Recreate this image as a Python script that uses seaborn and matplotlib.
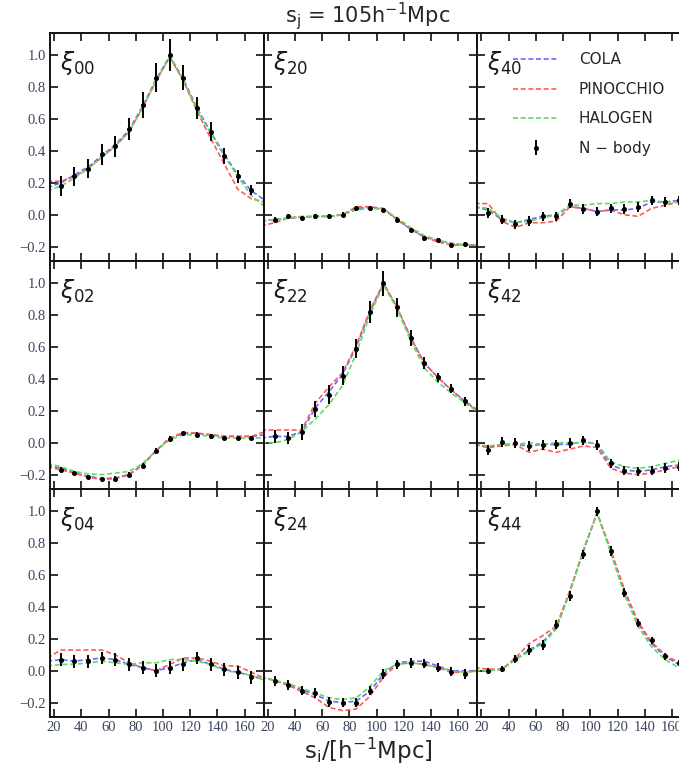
import numpy as np
import pandas as pd
import matplotlib
matplotlib.use("Agg")
import matplotlib.pyplot as plt
import seaborn as sns

# ---------------- data ----------------
S_NBODY = [25, 35, 45, 55, 65, 75, 85, 95, 105, 115, 125, 135, 145, 155, 165]
S_MODEL = [15, 25, 35, 45, 55, 65, 75, 85, 95, 105, 115, 125, 135, 145, 155, 165, 175]

PANELS = ["00", "20", "40", "02", "22", "42", "04", "24", "44"]
MODELS = ["COLA", "PINOCCHIO", "HALOGEN"]

# xi_00
NBODY_00 = [0.18, 0.24, 0.29, 0.38, 0.43, 0.54, 0.69, 0.86, 1.00, 0.86, 0.67, 0.52, 0.37, 0.24, 0.155]
ERR_00 = [0.06, 0.06, 0.06, 0.065, 0.065, 0.07, 0.08, 0.09, 0.10, 0.08, 0.07, 0.06, 0.05, 0.04, 0.03]
COLA_00 = [0.17, 0.20, 0.25, 0.30, 0.37, 0.44, 0.53, 0.68, 0.85, 0.995, 0.85, 0.67, 0.52, 0.38, 0.25, 0.15, 0.09]
PINO_00 = [0.21, 0.21, 0.24, 0.29, 0.36, 0.43, 0.52, 0.67, 0.84, 0.99, 0.84, 0.65, 0.48, 0.32, 0.16, 0.10, 0.08]
HALO_00 = [0.15, 0.18, 0.23, 0.29, 0.36, 0.43, 0.52, 0.67, 0.84, 0.99, 0.84, 0.66, 0.51, 0.37, 0.24, 0.12, 0.05]

# xi_20
NBODY_20 = [-0.03, -0.01, -0.02, -0.01, -0.01, 0.0, 0.04, 0.04, 0.03, -0.03, -0.095, -0.147, -0.158, -0.19, -0.185]
ERR_20 = [0.015] * 15
COLA_20 = [-0.04, -0.03, -0.02, -0.015, -0.01, -0.01, 0.0, 0.04, 0.045, 0.035, -0.03, -0.09, -0.14, -0.16, -0.18, -0.19, -0.19]
PINO_20 = [-0.07, -0.05, -0.02, -0.015, -0.01, -0.01, 0.0, 0.05, 0.05, 0.04, -0.03, -0.09, -0.14, -0.17, -0.19, -0.19, -0.19]
HALO_20 = [-0.04, -0.03, -0.02, -0.01, -0.01, -0.01, 0.0, 0.03, 0.04, 0.035, -0.02, -0.08, -0.13, -0.16, -0.18, -0.19, -0.19]

# xi_40
NBODY_40 = [0.01, -0.03, -0.06, -0.04, -0.01, -0.01, 0.07, 0.035, 0.02, 0.04, 0.035, 0.05, 0.09, 0.08, 0.09]
ERR_40 = [0.03] * 15
COLA_40 = [0.05, 0.03, -0.03, -0.05, -0.03, -0.01, 0.0, 0.05, 0.04, 0.02, 0.03, 0.03, 0.04, 0.08, 0.08, 0.09, 0.09]
PINO_40 = [0.07, 0.07, -0.04, -0.08, -0.05, -0.05, -0.04, 0.05, 0.04, 0.02, 0.03, 0.0, -0.01, 0.04, 0.06, 0.08, 0.09]
HALO_40 = [0.05, 0.04, -0.02, -0.05, -0.04, -0.02, 0.0, 0.06, 0.06, 0.07, 0.07, 0.08, 0.08, 0.09, 0.08, 0.08, 0.08]

# xi_02
NBODY_02 = [-0.17, -0.19, -0.215, -0.23, -0.225, -0.20, -0.145, -0.05, 0.025, 0.06, 0.05, 0.04, 0.03, 0.03, 0.03]
ERR_02 = [0.015] * 15
COLA_02 = [-0.14, -0.16, -0.19, -0.21, -0.225, -0.22, -0.20, -0.14, -0.05, 0.03, 0.06, 0.06, 0.05, 0.04, 0.04, 0.04, 0.05]
PINO_02 = [-0.15, -0.17, -0.19, -0.215, -0.23, -0.225, -0.20, -0.14, -0.05, 0.03, 0.065, 0.06, 0.05, 0.04, 0.04, 0.04, 0.07]
HALO_02 = [-0.13, -0.15, -0.18, -0.195, -0.20, -0.19, -0.18, -0.13, -0.05, 0.02, 0.05, 0.05, 0.04, 0.03, 0.03, 0.03, 0.03]

# xi_22
NBODY_22 = [0.04, 0.03, 0.07, 0.21, 0.30, 0.42, 0.59, 0.82, 1.00, 0.85, 0.66, 0.50, 0.41, 0.34, 0.26]
ERR_22 = [0.04, 0.04, 0.05, 0.05, 0.06, 0.06, 0.06, 0.07, 0.08, 0.06, 0.05, 0.04, 0.03, 0.03, 0.03]
COLA_22 = [0.03, 0.04, 0.04, 0.07, 0.22, 0.32, 0.43, 0.60, 0.82, 1.0, 0.85, 0.66, 0.50, 0.41, 0.33, 0.26, 0.20]
PINO_22 = [0.08, 0.08, 0.08, 0.08, 0.25, 0.35, 0.44, 0.61, 0.83, 1.0, 0.85, 0.66, 0.50, 0.41, 0.33, 0.26, 0.19]
HALO_22 = [0.0, 0.0, 0.02, 0.07, 0.15, 0.24, 0.36, 0.56, 0.80, 0.99, 0.84, 0.64, 0.47, 0.38, 0.31, 0.25, 0.19]

# xi_42
NBODY_42 = [-0.045, 0.005, 0.0, -0.02, -0.015, -0.01, 0.0, 0.015, -0.015, -0.13, -0.175, -0.18, -0.175, -0.16, -0.15]
ERR_42 = [0.03] * 15
COLA_42 = [-0.01, -0.03, -0.01, -0.01, -0.02, -0.01, -0.01, -0.01, 0.01, -0.01, -0.14, -0.17, -0.18, -0.17, -0.15, -0.14, -0.13]
PINO_42 = [-0.01, -0.03, -0.02, -0.01, -0.06, -0.04, -0.06, -0.04, -0.02, -0.03, -0.16, -0.19, -0.20, -0.19, -0.17, -0.15, -0.14]
HALO_42 = [-0.01, -0.02, -0.01, -0.01, 0.0, -0.01, 0.0, 0.0, 0.0, -0.005, -0.12, -0.15, -0.16, -0.15, -0.13, -0.11, -0.10]

# xi_04
NBODY_04 = [0.07, 0.06, 0.06, 0.08, 0.07, 0.04, 0.02, 0.0, 0.02, 0.04, 0.08, 0.04, 0.01, -0.01, -0.04]
ERR_04 = [0.04] * 15
COLA_04 = [0.06, 0.07, 0.06, 0.07, 0.08, 0.07, 0.04, 0.02, 0.0, 0.02, 0.05, 0.07, 0.04, 0.01, -0.01, -0.03, -0.06]
PINO_04 = [0.08, 0.13, 0.13, 0.13, 0.13, 0.10, 0.05, 0.02, 0.0, 0.04, 0.08, 0.08, 0.06, 0.03, 0.03, -0.01, -0.05]
HALO_04 = [0.03, 0.04, 0.04, 0.05, 0.06, 0.05, 0.04, 0.05, 0.05, 0.07, 0.07, 0.06, 0.04, 0.0, -0.01, -0.03, -0.06]

# xi_24
NBODY_24 = [-0.065, -0.09, -0.125, -0.14, -0.195, -0.20, -0.20, -0.125, -0.02, 0.04, 0.05, 0.045, 0.02, -0.005, -0.02]
ERR_24 = [0.03] * 15
COLA_24 = [-0.04, -0.06, -0.09, -0.12, -0.15, -0.19, -0.20, -0.19, -0.13, -0.02, 0.05, 0.06, 0.06, 0.03, 0.0, 0.0, 0.0]
PINO_24 = [-0.04, -0.06, -0.09, -0.13, -0.17, -0.23, -0.25, -0.24, -0.16, -0.04, 0.04, 0.05, 0.04, 0.02, -0.01, -0.01, 0.0]
HALO_24 = [-0.04, -0.06, -0.08, -0.11, -0.14, -0.17, -0.18, -0.17, -0.10, 0.0, 0.04, 0.05, 0.04, 0.02, 0.0, -0.01, 0.0]

# xi_44
NBODY_44 = [0.0, 0.01, 0.075, 0.13, 0.16, 0.29, 0.47, 0.73, 1.00, 0.75, 0.49, 0.30, 0.19, 0.09, 0.05]
ERR_44 = [0.02, 0.02, 0.025, 0.03, 0.03, 0.03, 0.03, 0.03, 0.03, 0.03, 0.03, 0.025, 0.02, 0.02, 0.02]
COLA_44 = [0.0, 0.0, 0.01, 0.07, 0.13, 0.18, 0.27, 0.50, 0.75, 0.99, 0.75, 0.50, 0.30, 0.17, 0.09, 0.04, 0.02]
PINO_44 = [0.02, 0.01, 0.01, 0.08, 0.17, 0.22, 0.28, 0.50, 0.76, 0.99, 0.76, 0.51, 0.31, 0.18, 0.10, 0.05, 0.03]
HALO_44 = [0.0, 0.0, 0.01, 0.07, 0.12, 0.17, 0.26, 0.49, 0.76, 0.99, 0.74, 0.48, 0.28, 0.15, 0.07, 0.02, 0.0]

X_TICKS = [20, 40, 60, 80, 100, 120, 140, 160]
Y_TICKS = [-0.2, 0.0, 0.2, 0.4, 0.6, 0.8, 1.0]
TITLE = "s$_\\mathregular{j}$ = 105h$^\\mathregular{-1}$Mpc"
XLABEL = "s$_\\mathregular{i}$/$\\mathregular{[}$h$^\\mathregular{-1}$Mpc$\\mathregular{]}$"

NBODY = {"00": NBODY_00, "20": NBODY_20, "40": NBODY_40, "02": NBODY_02, "22": NBODY_22,
         "42": NBODY_42, "04": NBODY_04, "24": NBODY_24, "44": NBODY_44}
ERR = {"00": ERR_00, "20": ERR_20, "40": ERR_40, "02": ERR_02, "22": ERR_22,
       "42": ERR_42, "04": ERR_04, "24": ERR_24, "44": ERR_44}
MODEL_VALUES = {
    "00": (COLA_00, PINO_00, HALO_00), "20": (COLA_20, PINO_20, HALO_20),
    "40": (COLA_40, PINO_40, HALO_40), "02": (COLA_02, PINO_02, HALO_02),
    "22": (COLA_22, PINO_22, HALO_22), "42": (COLA_42, PINO_42, HALO_42),
    "04": (COLA_04, PINO_04, HALO_04), "24": (COLA_24, PINO_24, HALO_24),
    "44": (COLA_44, PINO_44, HALO_44),
}

rows = []
for p in PANELS:
    for m, vals in zip(MODELS, MODEL_VALUES[p]):
        for s, v in zip(S_MODEL, vals):
            rows.append({"panel": p, "model": m, "s": s, "xi": v})
df = pd.DataFrame(rows)

# ---------------- style ----------------
sns.set_theme(style="white")
plt.rcParams["font.family"] = ["DejaVu Sans"]
plt.rcParams["mathtext.fontset"] = "dejavusans"
plt.rcParams["xtick.direction"] = "in"
plt.rcParams["ytick.direction"] = "in"

COLORS = {"COLA": "#6a6aff", "PINOCCHIO": "#ff5a5a", "HALOGEN": "#5fdc5f"}

fig = plt.figure(figsize=(6.79, 7.68), dpi=100)
gs = fig.add_gridspec(3, 3, left=50 / 679, right=691 / 679, top=1 - 33 / 768,
                      bottom=1 - 717 / 768, wspace=0, hspace=0)

TICK_FONT = dict(family="Liberation Serif", size=10.5, color="#3d4660")

axes = []
for i, p in enumerate(PANELS):
    r, c = divmod(i, 3)
    ax = fig.add_subplot(gs[r, c])
    axes.append(ax)
    sub = df[df["panel"] == p]
    for m in MODELS:
        d = sub[sub["model"] == m]
        sns.lineplot(data=d, x="s", y="xi", ax=ax, color=COLORS[m], sort=False,
                     errorbar=None, linewidth=1.2, linestyle=(0, (3, 1.6)),
                     label=m if p == "40" else None, legend=False)
    eb = ax.errorbar(S_NBODY, NBODY[p], yerr=ERR[p], fmt="o", ms=2.6, color="black",
                     ecolor="black", elinewidth=1.4, capsize=0,
                     label="N − body" if p == "40" else None)
    ax.set_xlim(17, 174)
    ax.set_ylim(-0.29, 1.14)
    ax.set_xticks(X_TICKS)
    ax.set_yticks(Y_TICKS)
    ax.set_xlabel("")
    ax.set_ylabel("")
    ax.tick_params(which="major", direction="in", length=6, width=1.3, color="#222222",
                   top=True, right=True, bottom=True, left=True)
    for sp in ax.spines.values():
        sp.set_linewidth(1.4)
        sp.set_color("#111111")
    if c == 0:
        ax.set_yticklabels([f"{t:.1f}".replace("-", "\u2212") for t in Y_TICKS], **TICK_FONT)
    else:
        ax.set_yticklabels([])
    if r == 2:
        ax.set_xticklabels([str(t) for t in X_TICKS], **TICK_FONT)
    else:
        ax.set_xticklabels([])
    ax.tick_params(axis="x", pad=3)
    ax.tick_params(axis="y", pad=3)
    ax.text(0.045, 0.93, r"$\xi_{%s}$" % p, transform=ax.transAxes, fontsize=17,
            ha="left", va="top", color="#1a1a1a")
    if p == "40":
        ax.legend(loc="upper left", bbox_to_anchor=(0.125, 0.955), frameon=False,
                  fontsize=11, handlelength=3.0, handletextpad=1.3, labelspacing=0.95,
                  borderaxespad=0.2)

fig.text(0.542, 0.979, TITLE, ha="center", va="center", fontsize=15)
fig.text(0.542, 0.022, XLABEL, ha="center", va="center", fontsize=16.5)

fig.savefig("out.png", dpi=100)
